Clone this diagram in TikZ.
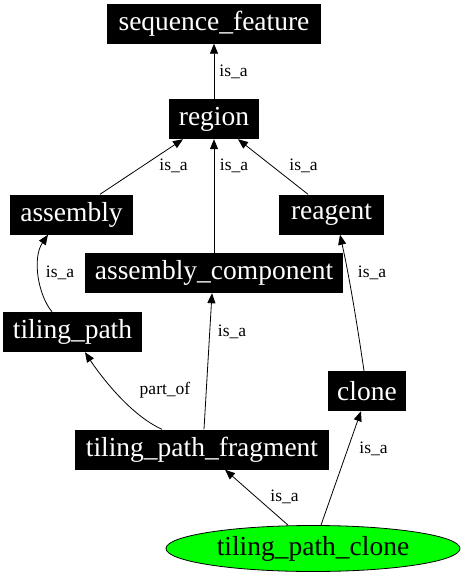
\documentclass[tikz,border=0pt]{standalone}
\usepackage{fontspec}
\setmainfont{Liberation Serif}
\usetikzlibrary{arrows.meta,shapes.geometric}

\begin{document}
\begin{tikzpicture}[x=1pt, y=-1pt,
		term/.style={fill=black, text=white, inner sep=0pt, minimum height=40pt,
			font=\fontsize{27.5}{30}\selectfont},
		leaf/.style={ellipse, draw=black, line width=0.8pt, fill=green, inner sep=0pt,
			minimum width=294pt, minimum height=46pt, font=\fontsize{27.5}{30}\selectfont},
		isa/.style={draw=black, line width=0.8pt, -{Triangle[length=10pt,width=8pt]}},
		lbl/.style={inner sep=0pt, font=\fontsize{17.5}{20}\selectfont}]
		\useasboundingbox (0,0) rectangle (464,576);
		\node[term, minimum width=214pt] (sequence_feature) at (214,23.5) {sequence\_feature};
		\node[term, minimum width=90pt] (region) at (214,119) {region};
		\node[term, minimum width=123pt] (assembly) at (71.5,214.5) {assembly};
		\node[term, minimum width=105pt] (reagent) at (331.5,214.5) {reagent};
		\node[term, minimum width=258pt] (assembly_component) at (214,273) {assembly\_component};
		\node[term, minimum width=139pt] (tiling_path) at (72.5,332) {tiling\_path};
		\node[term, minimum width=78pt] (clone) at (367,391) {clone};
		\node[term, minimum width=254pt] (tiling_path_fragment) at (202,449.5) {tiling\_path\_fragment};
		\node[leaf] (tiling_path_clone) at (313,548.5) {tiling\_path\_clone};

		\draw[isa] (region.north) -- (sequence_feature.south);
		\node[lbl] at (233.5,72) {is\_a};
		\draw[isa] ([xshift=28.5pt]assembly.north) -- ([xshift=-31pt]region.south);
		\node[lbl] at (173.5,166) {is\_a};
		\draw[isa] (assembly_component.north) -- (region.south);
		\node[lbl] at (234,166) {is\_a};
		\draw[isa] ([xshift=-23.5pt]reagent.north) -- ([xshift=24pt]region.south);
		\node[lbl] at (303.5,166) {is\_a};
		\draw[isa] ([xshift=-20.5pt]tiling_path.north) .. controls (38,295) and (32,258) .. ([xshift=-23.5pt]assembly.south);
		\node[lbl] at (60,273) {is\_a};
		\draw[isa] ([xshift=-3pt]clone.north) .. controls (358,330) and (350,280) .. ([xshift=8.5pt]reagent.south);
		\node[lbl] at (372,273) {is\_a};
		\draw[isa] ([xshift=2pt]tiling_path_fragment.north) -- ([xshift=-2pt]assembly_component.south);
		\node[lbl] at (232,332) {is\_a};
		\draw[isa] ([xshift=-40pt]tiling_path_fragment.north) .. controls (130,415) and (100,375) .. ([xshift=12.5pt]tiling_path.south);
		\node[lbl] at (165,390) {part\_of};
		\draw[isa] ([xshift=-25pt]tiling_path_clone.north) -- ([xshift=23pt]tiling_path_fragment.south);
		\node[lbl] at (284.5,497) {is\_a};
		\draw[isa] ([xshift=8pt]tiling_path_clone.north) -- ([xshift=-6pt]clone.south);
		\node[lbl] at (373.5,449) {is\_a};
\end{tikzpicture}
\end{document}
